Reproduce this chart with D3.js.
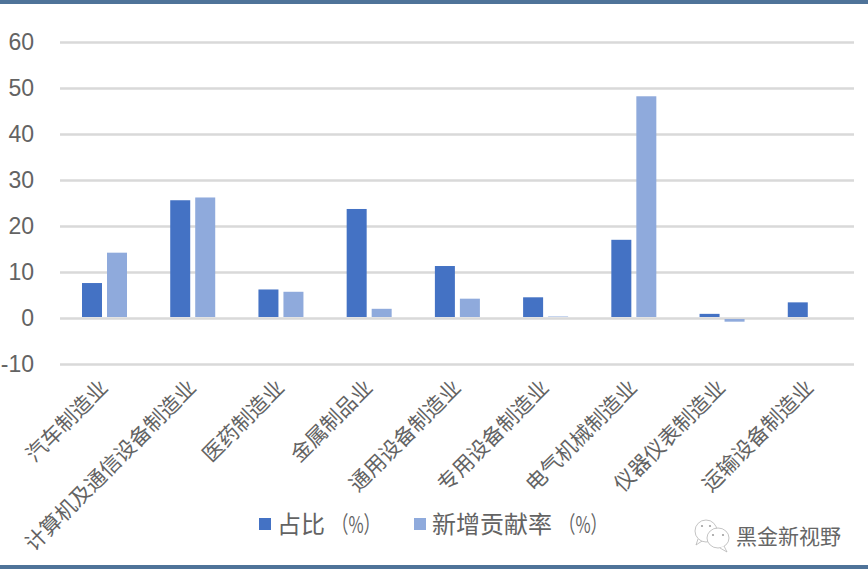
<!DOCTYPE html>
<html>
<head>
<meta charset="utf-8">
<script src="https://cdn.jsdelivr.net/npm/d3@7"></script>
<style>
html, body { margin: 0; padding: 0; background: #fff; }
svg { display: block; }
text { font-family: "Noto Sans CJK SC", sans-serif; }
</style>
</head>
<body>
<svg id="chart" width="868" height="573"></svg>
<script>
"use strict";

var categories = ["汽车制造业", "计算机及通信设备制造业", "医药制造业", "金属制品业", "通用设备制造业", "专用设备制造业", "电气机械制造业", "仪器仪表制造业", "运输设备制造业"]
var share = [7.6, 25.6, 6.2, 23.7, 11.3, 4.5, 17, 0.9, 3.4]
var contribution = [14.2, 26.2, 5.7, 2, 4.2, 0.2, 48.2, -0.8, 0]
var yTicks = [-10, 0, 10, 20, 30, 40, 50, 60]
var seriesNames = ["占比", "新增贡献率"]
var seriesUnit = "（%）"
var watermark = "黑金新视野"

var svg = d3.select("#chart")
var colors = ["#4472c4", "#8faadc"]
var textColor = "#636363"

// Frame bars at the top and bottom of the picture.
svg.append("rect").attr("width", 868).attr("height", 4).attr("fill", "#4f7399")
svg.append("rect").attr("y", 565).attr("width", 868).attr("height", 4).attr("fill", "#4f7399")

var x = d3.scaleBand().domain(categories).range([60, 854])
var y = d3.scaleLinear().domain([-10, 60]).range([364, 42])
var xSeries = d3.scaleBand().domain([0, 1]).range([22, 67]).paddingInner(0.2)

// Value axis with gridlines.
var yAxis = d3.axisLeft(y).tickValues(yTicks).tickSize(-794).tickPadding(26).tickFormat(d => String(d))
var gy = svg.append("g").attr("transform", "translate(60,0)").call(yAxis)
gy.select(".domain").remove()
gy.selectAll("line").attr("stroke", "#d9d9d9").attr("stroke-width", 2.5)
gy.selectAll("text").attr("fill", textColor).attr("font-size", 23)
    .style("font-family", "'Liberation Sans', sans-serif")

// Bars. They stop at the edge of the zero line, on either side of it.
var series = [share, contribution]
series.forEach(function (values, s) {
    svg.append("g").selectAll("rect")
        .data(values)
        .join("rect")
        .attr("x", (d, i) => x(categories[i]) + xSeries(s))
        .attr("y", d => d >= 0 ? Math.min(y(d), y(0) - 1.5) : y(0) + 1)
        .attr("width", xSeries.bandwidth())
        .attr("height", d => d === 0 ? 0 : Math.max(Math.abs(y(d) - y(0)) - 1, 0.5))
        .attr("fill", colors[s])
})

// Category labels, rotated and ending under the bars.
var xAxis = d3.axisBottom(x).tickSize(0).tickPadding(0)
var gx = svg.append("g").attr("transform", "translate(0,376)").call(xAxis)
gx.select(".domain").remove()
gx.selectAll("text")
    .attr("fill", textColor)
    .attr("font-size", 21)
    .attr("text-anchor", "end")
    .attr("dy", 0)
    .attr("transform", "translate(5,13) rotate(-45)")

// Legend. The unit is squeezed, the source draws its percent sign narrow.
var legendX = [259, 414]
seriesNames.forEach(function (name, s) {
    svg.append("rect").attr("x", legendX[s]).attr("y", 518).attr("width", 12).attr("height", 12).attr("fill", colors[s])
    var label = svg.append("text").attr("x", legendX[s] + 18).attr("y", 533)
        .attr("fill", textColor).attr("font-size", 24).text(name)
    label.append("tspan").attr("font-size", 23).attr("dx", 7)
        .attr("textLength", 48).attr("lengthAdjust", "spacingAndGlyphs").text(seriesUnit)
})

// Watermark with the chat bubbles icon.
var wm = svg.append("g").attr("fill", "none").attr("stroke", "#b5b5b5").attr("stroke-width", 0.8)
wm.append("ellipse").attr("cx", 706).attr("cy", 531).attr("rx", 11).attr("ry", 11)
wm.append("ellipse").attr("cx", 718).attr("cy", 538).attr("rx", 11).attr("ry", 10).attr("fill", "#fff")
wm.append("path").attr("d", "M698 539 L696 545 L702 541")
wm.append("path").attr("d", "M724 546 L727 552 L720 548").attr("fill", "#fff")
svg.append("g").attr("fill", "#a0a0a0").selectAll("circle")
    .data([[702, 526], [710, 526], [713, 535], [723, 535]])
    .join("circle")
    .attr("cx", d => d[0]).attr("cy", d => d[1]).attr("r", 1.1)
svg.append("text").attr("x", 736).attr("y", 544).attr("fill", "#666").attr("font-size", 21).text(watermark)
</script>
</body>
</html>
